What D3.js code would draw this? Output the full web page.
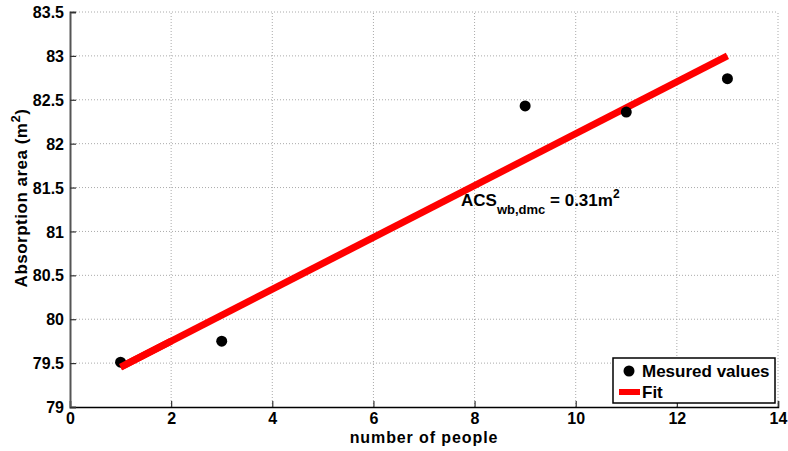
<!DOCTYPE html>
<html><head><meta charset="utf-8">
<script src="https://cdn.jsdelivr.net/npm/d3@7"></script>
<style>body{margin:0;background:#fff}svg{display:block;font-family:Arial,"Liberation Sans",sans-serif}</style>
</head><body>
<svg id="c" width="788" height="451"></svg>
<script>
const xTicks = [0,2,4,6,8,10,12,14];
const yTicks = [79,79.5,80,80.5,81,81.5,82,82.5,83,83.5];
const people = [1,3,9,11,13];
const measured = [79.51,79.75,82.43,82.36,82.74];
const fitX = [1,13];
const fitY = [79.455,83.0];

const svg = d3.select("#c");
const L=70,R=778,T=12,B=407;
const x = d3.scaleLinear().domain([0,14]).range([L,R]);
const y = d3.scaleLinear().domain([79,83.5]).range([B,T]);

// grid
const g = svg.append("g");
g.selectAll(".gx").data(xTicks.slice(1)).enter().append("line")
 .attr("x1",d=>x(d)).attr("x2",d=>x(d)).attr("y1",B).attr("y2",T)
 .attr("stroke","#aaa").attr("stroke-dasharray","1,2");
g.selectAll(".gy").data(yTicks.slice(1)).enter().append("line")
 .attr("y1",d=>y(d)).attr("y2",d=>y(d)).attr("x1",L).attr("x2",R)
 .attr("stroke","#aaa").attr("stroke-dasharray","1,2");

// axes
const xa = svg.append("g").attr("transform",`translate(0,${B})`)
 .call(d3.axisBottom(x).tickValues(xTicks).tickSize(-6).tickPadding(6).tickFormat(d3.format("d")));
const ya = svg.append("g").attr("transform",`translate(${L},0)`)
 .call(d3.axisLeft(y).tickValues(yTicks).tickSize(-6).tickPadding(6).tickFormat(d=>String(d)));
[xa,ya].forEach(a=>{
 a.selectAll("text").attr("font-size",16).attr("font-weight","bold").attr("fill","#000")
  .attr("font-family","Arial, 'Liberation Sans', sans-serif");
 a.selectAll("line").attr("stroke","#333").attr("stroke-width",1.2);
 a.select(".domain").attr("stroke","#000").attr("stroke-width",1.5);
});
ya.select(".domain").attr("stroke","#555").attr("stroke-width",2);
ya.selectAll("text").attr("dy","0.35em");

// fit line
svg.append("line")
 .attr("x1",x(fitX[0])).attr("y1",y(fitY[0])).attr("x2",x(fitX[1])).attr("y2",y(fitY[1]))
 .attr("stroke","#ff0000").attr("stroke-width",7);

// points
svg.selectAll(".pt").data(people).enter().append("circle")
 .attr("cx",d=>x(d)).attr("cy",(d,i)=>y(measured[i])).attr("r",5.5).attr("fill","#000");
// fit drawn over the first point near x=1, as in the reference
svg.append("line")
 .attr("x1",x(fitX[0])).attr("y1",y(fitY[0])).attr("x2",x(fitX[0]+1)).attr("y2",y(fitY[0]+(fitY[1]-fitY[0])/12))
 .attr("stroke","#ff0000").attr("stroke-width",7);

// annotation
const ann = svg.append("text").attr("x",461).attr("y",206).attr("font-size",17).attr("font-weight","bold");
ann.append("tspan").text("ACS");
ann.append("tspan").attr("dy",8).attr("font-size",13).text("wb,dmc");
ann.append("tspan").attr("dy",-8).text(" = 0.31m");
ann.append("tspan").attr("dy",-8).attr("font-size",12).text("2");

// axis labels
svg.append("text").attr("x",424).attr("y",443).attr("text-anchor","middle")
 .attr("font-size",16).attr("font-weight","bold").attr("letter-spacing",0.9).text("number of people");
const yl = svg.append("text").attr("transform",`translate(27,198) rotate(-90)`)
 .attr("text-anchor","middle").attr("font-size",17).attr("font-weight","bold").attr("letter-spacing",0.5);
yl.append("tspan").text("Absorption area (m");
yl.append("tspan").attr("dy",-7).attr("font-size",13).text("2");
yl.append("tspan").attr("dy",7).text(")");

// legend
const lg = svg.append("g");
lg.append("rect").attr("x",613).attr("y",358).attr("width",162).attr("height",45)
 .attr("fill","#fff").attr("stroke","#000").attr("stroke-width",1.5);
lg.append("circle").attr("cx",629).attr("cy",371).attr("r",5.5).attr("fill","#000");
lg.append("text").attr("x",642).attr("y",377).attr("font-size",17).attr("font-weight","bold").text("Mesured values");
lg.append("line").attr("x1",619).attr("x2",640).attr("y1",392).attr("y2",392).attr("stroke","#ff0000").attr("stroke-width",6);
lg.append("text").attr("x",642).attr("y",398).attr("font-size",17).attr("font-weight","bold").text("Fit");
</script>
</body></html>
